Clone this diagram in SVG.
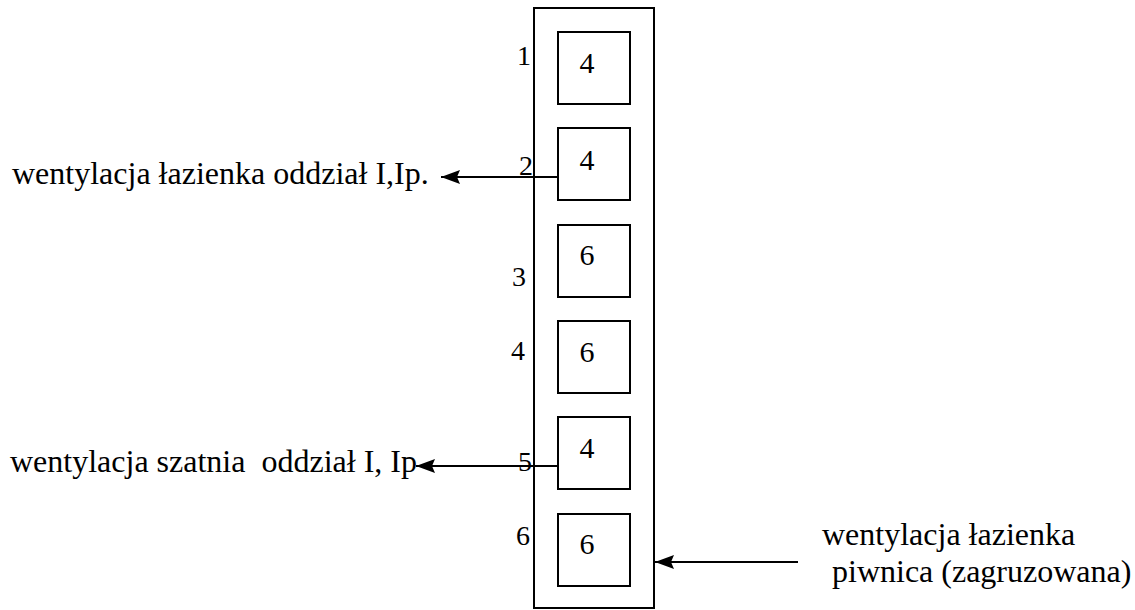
<svg xmlns="http://www.w3.org/2000/svg" width="1135" height="610" viewBox="0 0 1135 610">
<style>
.box{fill:none;stroke:#000;stroke-width:2}
.t{font-family:"Liberation Serif","Times New Roman",serif;fill:#000}
.lbl{font-size:32px}
.num{font-size:28px}
.in{font-size:30px;text-anchor:middle}
.conn{stroke:#000;stroke-width:1.8;fill:none}
</style>
<defs>
<marker id="ah" markerWidth="20" markerHeight="14" refX="19" refY="7" orient="auto" markerUnits="userSpaceOnUse">
<path d="M19,7 L0,0 L3,7 L0,14 Z" fill="#000"/>
</marker>
</defs>
<g id="shaft">
<rect class="box" x="534" y="8" width="120" height="600"/>
</g>
<g id="n1"><rect class="box" x="558" y="32" width="72" height="72"/><text class="t in" x="587" y="73">4</text><text class="t num" x="517" y="65">1</text></g>
<g id="n2"><rect class="box" x="558" y="128" width="72" height="72"/><text class="t in" x="587" y="170">4</text><text class="t num" x="519" y="175">2</text></g>
<g id="n3"><rect class="box" x="558" y="225" width="72" height="72"/><text class="t in" x="587" y="265">6</text><text class="t num" x="512" y="286">3</text></g>
<g id="n4"><rect class="box" x="558" y="321" width="72" height="72"/><text class="t in" x="587" y="362">6</text><text class="t num" x="511" y="360">4</text></g>
<g id="n5"><rect class="box" x="558" y="417" width="72" height="72"/><text class="t in" x="587" y="458">4</text><text class="t num" x="518" y="471">5</text></g>
<g id="n6"><rect class="box" x="558" y="514" width="72" height="72"/><text class="t in" x="587" y="554">6</text><text class="t num" x="516" y="545">6</text></g>
<g id="connectors">
<path class="conn" d="M558,177 H441" marker-end="url(#ah)"/>
<path class="conn" d="M558,466 H416" marker-end="url(#ah)"/>
<path class="conn" d="M798,562 H655" marker-end="url(#ah)"/>
</g>
<g id="labels">
<text class="t lbl" x="12" y="184">wentylacja łazienka oddział I,Ip.</text>
<text class="t lbl" x="10" y="472" xml:space="preserve">wentylacja szatnia  oddział I, Ip</text>
<text class="t lbl" x="822" y="545">wentylacja łazienka</text>
<text class="t lbl" x="832" y="582">piwnica (zagruzowana)</text>
</g>
</svg>
